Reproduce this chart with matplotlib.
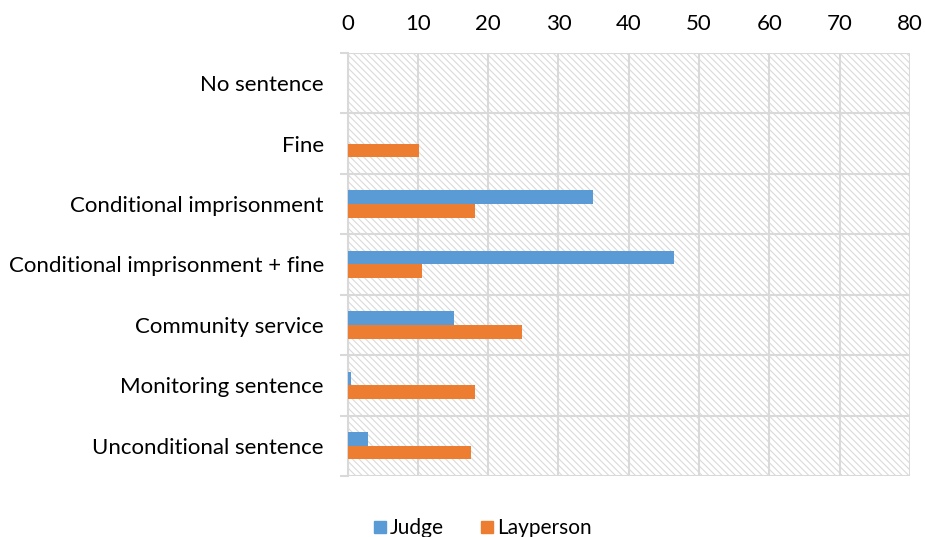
import matplotlib
matplotlib.use("Agg")
import matplotlib.pyplot as plt
import numpy as np
from matplotlib.patches import Rectangle, Patch

categories = ["No sentence", "Fine", "Conditional imprisonment",
              "Conditional imprisonment + fine", "Community service",
              "Monitoring sentence", "Unconditional sentence"]
judge = [0, 0, 34.9, 46.5, 15.1, 0.5, 2.9]
layperson = [0, 10.2, 18.2, 10.6, 24.8, 18.1, 17.6]
xticks = [0, 10, 20, 30, 40, 50, 60, 70, 80]

plt.rcParams['font.family'] = ['Lato', 'DejaVu Sans']
plt.rcParams['hatch.linewidth'] = 0.8

fig = plt.figure(figsize=(9.25, 5.37), dpi=100)
ax = fig.add_axes([347.5/925, 1-476/537, (910-347.5)/925, (476-53)/537])

grid_c = '#d9d9d9'
bg = Rectangle((0, 0), 1, 1, transform=ax.transAxes, facecolor='white',
               edgecolor='#dadada', hatch='\\\\\\\\\\', linewidth=0, zorder=0)
ax.add_patch(bg)

y = np.arange(len(categories))
h = 0.225
ax.barh(y - h/2, judge, height=h, color='#5B9BD5', zorder=3, label='Judge')
ax.barh(y + h/2, layperson, height=h, color='#ED7D31', zorder=3, label='Layperson')

ax.set_xlim(0, 80)
ax.set_ylim(len(categories) - 0.5, -0.5)
ax.set_xticks(xticks)
ax.xaxis.tick_top()
ax.tick_params(axis='x', length=0, labelsize=16, pad=14, colors='black')
ax.set_yticks(y)
ax.set_yticklabels(categories)
ax.tick_params(axis='y', which='major', length=0, labelsize=16, pad=17)
ax.set_yticks(np.arange(-0.5, len(categories)), minor=True)
ax.tick_params(axis='y', which='minor', length=6, color=grid_c, width=1.5)
ax.grid(axis='x', color=grid_c, linewidth=1.5, zorder=1)
ax.grid(axis='y', which='minor', color=grid_c, linewidth=1.5, zorder=1)
for s in ax.spines.values():
    s.set_visible(False)
ax.spines['left'].set_visible(True)
ax.spines['left'].set_color(grid_c)
ax.spines['left'].set_linewidth(1.5)
ax.set_axisbelow(True)

handles = [Patch(color='#5B9BD5', label='Judge'), Patch(color='#ED7D31', label='Layperson')]
fig.legend(handles=handles, loc='center', bbox_to_anchor=(0.522, 0.016), ncol=2,
           frameon=False, fontsize=15, handlelength=0.55, handleheight=0.55,
           handletextpad=0.2, columnspacing=1.8)

fig.savefig('out.png', dpi=100)
